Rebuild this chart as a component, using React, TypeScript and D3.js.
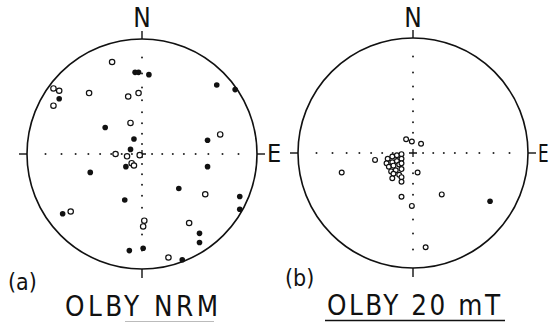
import { useRef, useEffect } from 'react';
import * as d3 from 'd3';

// directions as projected (east, north) positions, unit circle = primitive
// filled = lower hemisphere, open = upper hemisphere
const nrmOpen: [number, number][] = [
    [-0.26, 0.80], [-0.77, 0.57], [-0.72, 0.55], [-0.77, 0.42], [-0.46, 0.53],
    [-0.12, 0.50], [-0.03, 0.53], [-0.10, 0.27], [0.68, 0.17], [-0.23, 0.00],
    [-0.13, -0.02], [-0.02, -0.01], [-0.09, -0.08], [-0.07, -0.10], [0.55, -0.35],
    [-0.62, -0.50], [0.02, -0.58], [0.01, -0.63], [0.41, -0.60], [0.23, -0.90],
];
const nrmFilled: [number, number][] = [
    [-0.06, 0.71], [-0.03, 0.71], [0.06, 0.69], [-0.72, 0.48], [0.65, 0.60],
    [0.81, 0.56], [-0.32, 0.23], [-0.07, 0.13], [0.57, 0.12], [-0.10, 0.04],
    [-0.14, -0.11], [0.57, -0.11], [-0.45, -0.16], [0.32, -0.30], [-0.15, -0.40],
    [0.85, -0.37], [0.85, -0.48], [-0.69, -0.52], [0.50, -0.69], [0.50, -0.77],
    [-0.11, -0.84], [0.01, -0.82], [0.35, -0.92],
];
const mtOpen: [number, number][] = [
    [-0.06, 0.12], [-0.01, 0.10], [0.07, 0.08], [-0.33, -0.06], [-0.62, -0.17],
    [0.04, -0.17], [-0.10, -0.38], [0.25, -0.36], [-0.01, -0.46], [0.11, -0.82],
    [-0.22, -0.05], [-0.18, -0.03], [-0.14, -0.02], [-0.10, -0.01], [-0.23, -0.09],
    [-0.18, -0.08], [-0.14, -0.07], [-0.10, -0.05], [-0.21, -0.12], [-0.17, -0.11],
    [-0.12, -0.10], [-0.10, -0.09], [-0.19, -0.16], [-0.15, -0.15], [-0.10, -0.14],
    [-0.17, -0.18], [-0.12, -0.19], [-0.18, -0.22], [-0.10, -0.21], [-0.10, -0.25],
];
const mtFilled: [number, number][] = [[0.67, -0.42]];

const inclinationTicks = [80, 70, 60, 50, 40, 30, 20, 10];

const FONT = "'Liberation Sans Narrow', 'DejaVu Sans Condensed', 'Liberation Sans', sans-serif";

export default function App() {
    const ref = useRef<SVGSVGElement>(null);

    useEffect(() => {
        if (!ref.current) return;
        const svg = d3.select(ref.current);
        svg.selectAll('*').remove();

        const R = 115;

        const drawNet = (cx: number, cy: number, open: [number, number][], filled: [number, number][], openR: number, eScale: number) => {
            const x = d3.scaleLinear().domain([-1, 1]).range([cx - R, cx + R]);
            const y = d3.scaleLinear().domain([-1, 1]).range([cy + R, cy - R]);
            const g = svg.append('g');

            g.append('circle')
                .attr('cx', cx).attr('cy', cy).attr('r', R)
                .attr('fill', 'none').attr('stroke', '#111').attr('stroke-width', 1.6);

            // N, S, W, E ticks
            const ticks = [
                [cx, cy - R, cx, cy - R - 8],
                [cx, cy + R, cx, cy + R + 9],
                [cx - R, cy, cx - R - 8, cy],
                [cx + R, cy, cx + R + 8, cy],
            ];
            g.selectAll('line.tick').data(ticks).enter().append('line')
                .attr('x1', d => d[0]).attr('y1', d => d[1])
                .attr('x2', d => d[2]).attr('y2', d => d[3])
                .attr('stroke', '#111').attr('stroke-width', 1.4);

            // centre cross
            g.append('path')
                .attr('d', `M${cx - 4},${cy}H${cx + 4}M${cx},${cy - 4}V${cy + 4}`)
                .attr('stroke', '#111').attr('stroke-width', 1.3);

            // 10 degree inclination dots (stereographic)
            const rr = inclinationTicks.map(inc => Math.tan(((90 - inc) / 2) * Math.PI / 180));
            const dots: [number, number][] = [];
            rr.forEach(r => { dots.push([r, 0], [-r, 0], [0, r], [0, -r]); });
            g.selectAll('circle.dot').data(dots).enter().append('circle')
                .attr('cx', d => x(d[0])).attr('cy', d => y(d[1]))
                .attr('r', 1).attr('fill', '#222');

            g.selectAll('circle.open').data(open).enter().append('circle')
                .attr('cx', d => x(d[0])).attr('cy', d => y(d[1]))
                .attr('r', openR).attr('fill', 'white')
                .attr('stroke', '#111').attr('stroke-width', 1.2);

            g.selectAll('circle.filled').data(filled).enter().append('circle')
                .attr('cx', d => x(d[0])).attr('cy', d => y(d[1]))
                .attr('r', 2.8).attr('fill', '#111');

            g.append('text')
                .attr('transform', `translate(${cx},27)`)
                .attr('text-anchor', 'middle')
                .style('font-family', FONT).style('font-size', '26px').style('fill', '#111')
                .text('N');
            g.append('text')
                .attr('transform', `translate(${cx + R + 10},162) scale(${eScale},1)`)
                .style('font-family', FONT).style('font-size', '25px').style('fill', '#111')
                .text('E');
        };

        drawNet(142, 154, nrmOpen, nrmFilled, 2.7, 1);
        drawNet(413, 153, mtOpen, mtFilled, 2.4, 0.75);

        const label = (tx: number, ty: number, size: number, width: number | null, txt: string) => {
            const t = svg.append('text')
                .attr('x', tx).attr('y', ty)
                .style('font-family', FONT).style('font-size', `${size}px`).style('fill', '#111')
                .text(txt);
            if (width) t.attr('textLength', width).attr('lengthAdjust', 'spacing');
        };

        label(8, 290, 23, null, '(a)');
        label(285, 286, 23, null, '(b)');
        label(65, 316, 27.5, 153, 'OLBY  NRM');
        label(327, 315, 27.5, 173, 'OLBY  20 mT');

        svg.append('line')
            .attr('x1', 325).attr('x2', 505).attr('y1', 320.5).attr('y2', 320.5)
            .attr('stroke', '#111').attr('stroke-width', 1.5);
        svg.append('line')
            .attr('x1', 125).attr('x2', 214).attr('y1', 321.5).attr('y2', 321.5)
            .attr('stroke', '#bbb').attr('stroke-width', 1);
    }, []);

    return (
        <svg ref={ref} width={551} height={322}
            style={{ position: 'absolute', left: 0, top: 0, background: 'white' }} />
    );
}
